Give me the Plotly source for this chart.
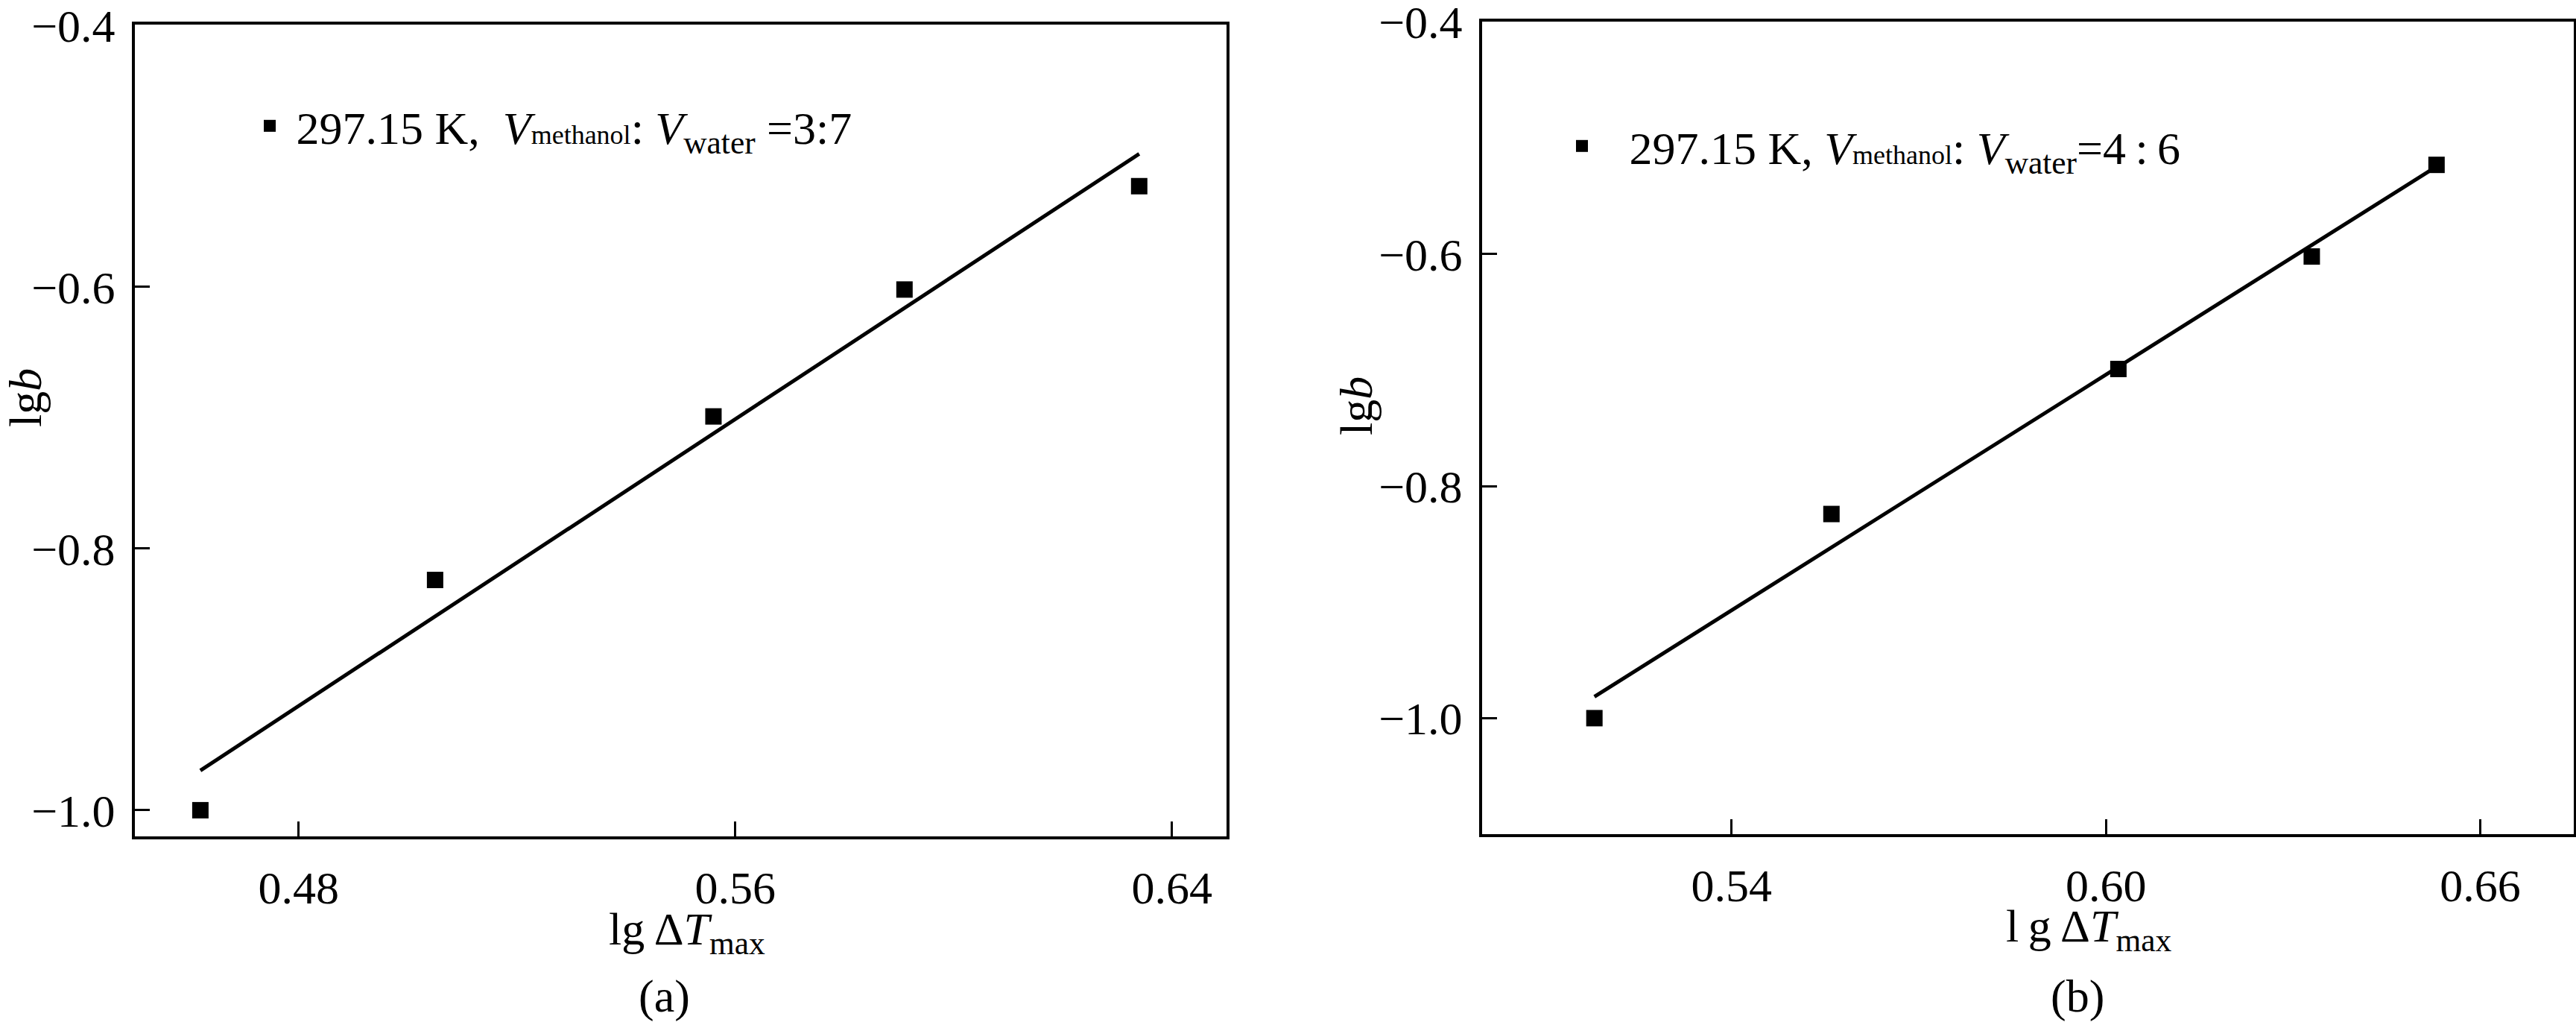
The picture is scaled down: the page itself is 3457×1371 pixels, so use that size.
import numpy as np
import plotly.graph_objects as go

# ---------------- data ----------------
# panel (a): 297.15 K, V_methanol : V_water = 3:7
x_a = [0.462, 0.505, 0.556, 0.591, 0.634]
y_a = [-1.000, -0.824, -0.699, -0.602, -0.523]
# panel (b): 297.15 K, V_methanol : V_water = 4:6
x_b = [0.518, 0.556, 0.602, 0.633, 0.653]
y_b = [-1.000, -0.824, -0.699, -0.602, -0.523]

xticks_a = [0.48, 0.56, 0.64]
xticklabels_a = ["0.48", "0.56", "0.64"]
xticks_b = [0.54, 0.60, 0.66]
xticklabels_b = ["0.54", "0.60", "0.66"]
yticks = [-0.4, -0.6, -0.8, -1.0]
yticklabels = ["\u22120.4", "\u22120.6", "\u22120.8", "\u22121.0"]

legend_a = ("&nbsp;297.15 K,&nbsp;&nbsp;<i>V</i><span style='font-size:36px'>methanol</span>"
            ": <i>V</i><sub>water</sub> =3:7")
legend_b = ("&nbsp;&nbsp;\u2009297.15 K, <i>V</i><span style='font-size:36px'>methanol</span>"
            ": <i>V</i><sub>water</sub>=4\u2009:\u20096")

FONT = "Liberation Serif"
FS = 62
W, H = 3457, 1371


def fit_line(x, y):
    k, b = np.polyfit(x, y, 1)
    xs = np.array([min(x), max(x)])
    return xs, k * xs + b


fig = go.Figure()

# panel (a)
fig.add_trace(go.Scatter(x=x_a, y=y_a, mode="markers", name=legend_a,
                         marker=dict(symbol="square", size=22, color="black"),
                         xaxis="x", yaxis="y", legend="legend"))
lx, ly = fit_line(x_a, y_a)
fig.add_trace(go.Scatter(x=lx, y=ly, mode="lines", line=dict(color="black", width=5),
                         showlegend=False, xaxis="x", yaxis="y"))

# panel (b)
fig.add_trace(go.Scatter(x=x_b, y=y_b, mode="markers", name=legend_b,
                         marker=dict(symbol="square", size=22, color="black"),
                         xaxis="x2", yaxis="y2", legend="legend2"))
lx, ly = fit_line(x_b, y_b)
fig.add_trace(go.Scatter(x=lx, y=ly, mode="lines", line=dict(color="black", width=5),
                         showlegend=False, xaxis="x2", yaxis="y2"))

tickfont = dict(family=FONT, size=FS, color="black")


def axis(**kw):
    d = dict(ticks="inside", ticklen=20, tickwidth=3, tickcolor="black",
             showline=True, linewidth=4, linecolor="black", mirror=True,
             showgrid=False, zeroline=False, tickfont=tickfont, automargin=False,
             ticklabeloverflow="allow")
    d.update(kw)
    return d


fig.update_layout(
    width=W, height=H,
    margin=dict(l=0, r=0, t=0, b=0, autoexpand=False),
    paper_bgcolor="white", plot_bgcolor="white",
    font=dict(family=FONT, size=FS, color="black"),
    xaxis=axis(domain=[181 / W, 1646 / W], range=[0.45, 0.65], anchor="y",
               tickvals=xticks_a, ticktext=xticklabels_a, ticklabelstandoff=12),
    yaxis=axis(domain=[1 - 1122 / H, 1 - 33 / H], range=[-1.02, -0.3995], anchor="x",
               tickvals=yticks, ticktext=yticklabels, ticklabelstandoff=10),
    xaxis2=axis(domain=[1989 / W, 3454 / W], range=[0.50, 0.675], anchor="y2",
                tickvals=xticks_b, ticktext=xticklabels_b, ticklabelstandoff=12),
    yaxis2=axis(domain=[1 - 1119 / H, 1 - 29 / H], range=[-1.10, -0.3995], anchor="x2",
                tickvals=yticks, ticktext=yticklabels, ticklabelstandoff=10),
    legend=dict(x=(362 - 20) / W, y=1 - 169 / H, xanchor="left", yanchor="middle",
                bgcolor="rgba(0,0,0,0)", borderwidth=0,
                font=dict(family=FONT, size=FS, color="black")),
    legend2=dict(x=(2123 - 20) / W, y=1 - 196 / H, xanchor="left", yanchor="middle",
                 bgcolor="rgba(0,0,0,0)", borderwidth=0,
                 font=dict(family=FONT, size=FS, color="black")),
    showlegend=True,
)

ann_font = dict(family=FONT, size=FS, color="black")
annotations = [
    dict(text="lg<i>b</i>", x=34 / W, y=1 - 534 / H, textangle=-90),
    dict(text="lg\u2009\u0394<i>T</i><sub>max</sub>", x=922 / W, y=1 - 1250 / H),
    dict(text="(a)", x=892 / W, y=1 - 1336 / H),
    dict(text="lg<i>b</i>", x=1820 / W, y=1 - 545 / H, textangle=-90),
    dict(text="l\u2009g\u2009\u0394<i>T</i><sub>max</sub>", x=2803 / W, y=1 - 1246 / H),
    dict(text="(b)", x=2788 / W, y=1 - 1336 / H),
]
for a in annotations:
    fig.add_annotation(xref="paper", yref="paper", xanchor="center", yanchor="middle",
                       showarrow=False, font=ann_font, **a)

fig.write_html("out.html", config={"displayModeBar": False},
               post_script="document.body.style.margin='0';document.body.style.overflow='hidden';")
